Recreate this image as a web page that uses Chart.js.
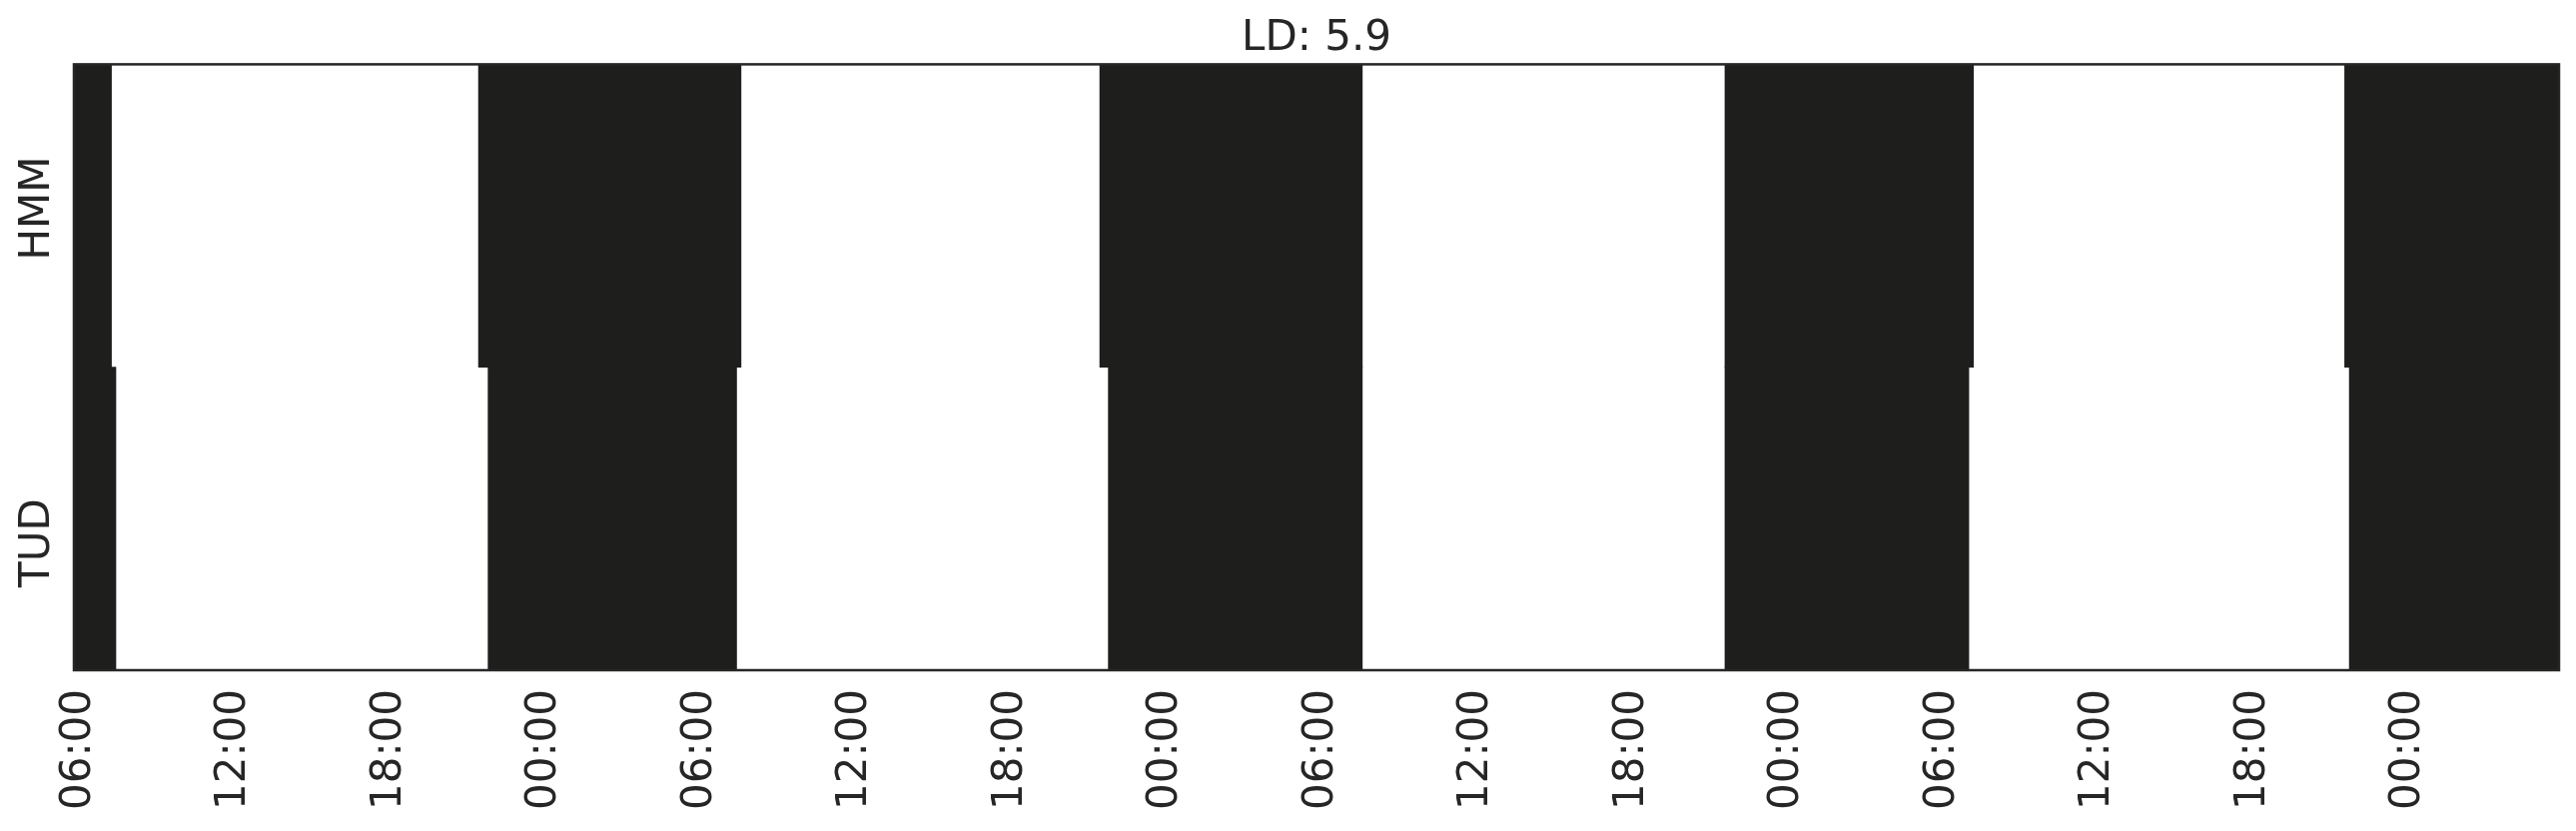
<!DOCTYPE html>
<html>
<head>
<meta charset="utf-8">
<title>LD: 5.9</title>
<script src="https://cdn.jsdelivr.net/npm/chart.js@4"></script>
<style>
  html, body { margin: 0; padding: 0; background: #fff; }
  canvas { display: block; }
</style>
</head>
<body>
<canvas id="ldChart" width="2579" height="832"></canvas>
<script>
// hours counted from 06:00 on the first day
const rowNames = ['HMM', 'TUD'];
const rowPos = [1.5, 0.5];
const hmmDark = [[0, 1.45], [15.63, 25.77], [39.63, 49.77], [63.78, 73.38], [87.72, 96]];
const tudDark = [[0, 1.62], [16.0, 25.6], [39.96, 49.77], [63.78, 73.2], [87.9, 96]];

const xTicks = [0, 6, 12, 18, 24, 30, 36, 42, 48, 54, 60, 66, 72, 78, 84, 90];
const xTickLabels = ['06:00', '12:00', '18:00', '00:00', '06:00', '12:00', '18:00', '00:00',
                     '06:00', '12:00', '18:00', '00:00', '06:00', '12:00', '18:00', '00:00'];
const yTicks = [1.525, 0.42];
const yTickLabels = ['HMM', 'TUD'];

const ink = '#262626';
const dark = '#1e1e1c';
const font = 'DejaVu Sans';

// box around the plot area
const frame = {
    id: 'frame',
    afterDraw(chart) {
        const { ctx, chartArea: a } = chart;
        ctx.save();
        ctx.strokeStyle = ink;
        ctx.lineWidth = 2.5;
        ctx.strokeRect(a.left, a.top, a.right - a.left, a.bottom - a.top);
        ctx.restore();
    }
};

const toBars = (spans, y) => spans.map(([s, e]) => ({ x: [s, e], y: y }));

new Chart(document.getElementById('ldChart'), {
    type: 'bar',
    data: {
        datasets: [
            { label: rowNames[0], data: toBars(hmmDark, rowPos[0]), backgroundColor: dark },
            { label: rowNames[1], data: toBars(tudDark, rowPos[1]), backgroundColor: dark }
        ]
    },
    options: {
        indexAxis: 'y',
        responsive: false,
        animation: false,
        layout: { padding: { left: 0, right: 17, top: 0, bottom: 0 } },
        datasets: {
            bar: {
                borderWidth: 0,
                barPercentage: 1,
                categoryPercentage: 1,
                grouped: false
            }
        },
        scales: {
            x: {
                type: 'linear',
                min: 0,
                max: 96,
                grid: { display: false, drawTicks: false },
                border: { display: false },
                afterBuildTicks: s => { s.ticks = xTicks.map(v => ({ value: v })); },
                afterFit: s => { s.height = 161; },
                ticks: {
                    minRotation: 90,
                    maxRotation: 90,
                    autoSkip: false,
                    padding: 19,
                    labelOffset: 5,
                    color: ink,
                    font: { family: font, size: 42 },
                    callback: (v, i) => xTickLabels[i]
                }
            },
            y: {
                type: 'linear',
                min: 0,
                max: 2,
                offset: false,
                grid: { display: false, drawTicks: false },
                border: { display: false },
                afterBuildTicks: s => { s.ticks = yTicks.map(v => ({ value: v })); },
                afterFit: s => { s.width = 74; },
                ticks: {
                    minRotation: 90,
                    maxRotation: 90,
                    crossAlign: 'center',
                    padding: -16,
                    color: ink,
                    font: { family: font, size: 42 },
                    callback: (v, i) => yTickLabels[i]
                }
            }
        },
        plugins: {
            colors: { enabled: false },
            legend: { display: false },
            tooltip: { enabled: false },
            title: {
                display: true,
                fullSize: false, // centre over the plot area
                text: 'LD: 5.9',
                color: ink,
                font: { family: font, size: 42, weight: 'normal' },
                padding: { top: 14, bottom: 0 }
            }
        }
    },
    plugins: [frame]
});
</script>
</body>
</html>
